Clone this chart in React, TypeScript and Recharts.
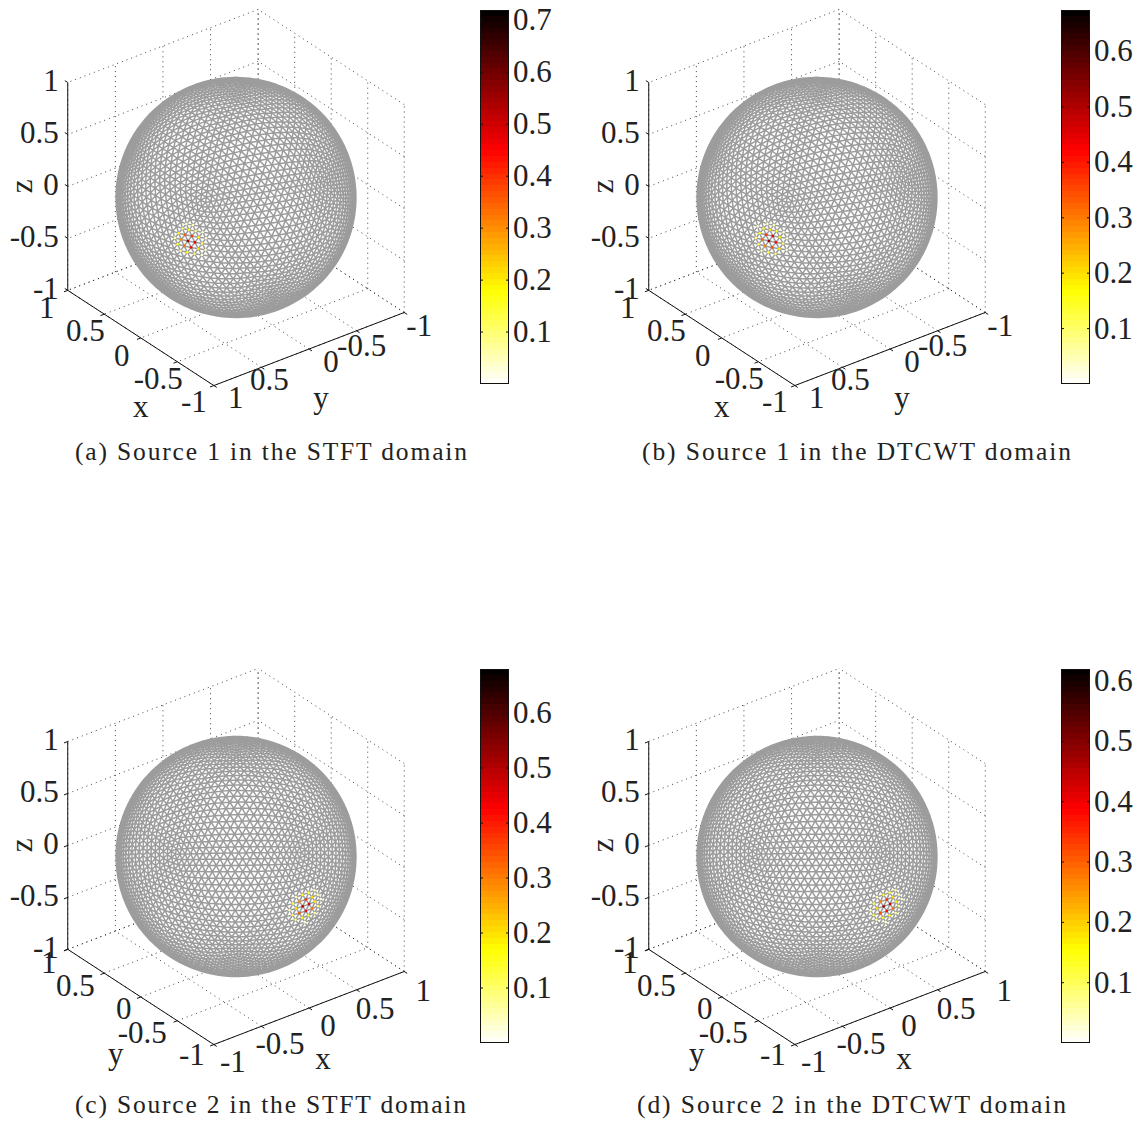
import React from 'react';
import { ComposedChart, Line, Scatter, Bar, XAxis, YAxis } from 'recharts';

// view of each panel (degrees)
const VIEW_EL = 30;
const VIEW_AZ = [-127.5, -127.5, -37.5, -37.5];

const TICK_VALUES = [-1, -0.5, 0, 0.5, 1];
const TICK_TEXT = ['-1', '-0.5', '0', '0.5', '1'];

const CAPTIONS = [
  '(a) Source 1 in the STFT domain',
  '(b) Source 1 in the DTCWT domain',
  '(c) Source 2 in the STFT domain',
  '(d) Source 2 in the DTCWT domain',
];

// estimated direction of each source on the sphere (degrees)
const SOURCE_AZ = [119.3, 119.3, -92, -92];
const SOURCE_EL = [6, 6.5, -0.5, -0.5];

// colorbar tops and labels
const BAR_MAX = [0.72, 0.675, 0.68, 0.62];
const BAR_TICKS = [
  [0.1, 0.2, 0.3, 0.4, 0.5, 0.6, 0.7],
  [0.1, 0.2, 0.3, 0.4, 0.5, 0.6],
  [0.1, 0.2, 0.3, 0.4, 0.5, 0.6],
  [0.1, 0.2, 0.3, 0.4, 0.5, 0.6],
];

// values on the mesh nodes around each source, nearest node first
const HOT_A = [0.55, 0.47, 0.44, 0.4, 0.36, 0.33, 0.3, 0.2, 0.19, 0.18, 0.17, 0.16, 0.15, 0.12, 0.11, 0.1, 0.09, 0.08, 0.07, 0.05, 0.05, 0.04, 0.04, 0.03, 0.03];
const HOT_B = [0.52, 0.45, 0.42, 0.38, 0.35, 0.32, 0.29, 0.2, 0.19, 0.18, 0.16, 0.15, 0.14, 0.12, 0.11, 0.1, 0.09, 0.08, 0.07, 0.05, 0.05, 0.04, 0.04, 0.03, 0.03];
const HOT_C = [0.5, 0.46, 0.42, 0.38, 0.34, 0.31, 0.28, 0.21, 0.2, 0.19, 0.17, 0.16, 0.15, 0.13, 0.12, 0.11, 0.1, 0.09, 0.08, 0.06, 0.05, 0.05, 0.04, 0.04, 0.03];
const HOT_D = [0.46, 0.42, 0.38, 0.35, 0.32, 0.29, 0.27, 0.2, 0.19, 0.17, 0.16, 0.15, 0.14, 0.12, 0.11, 0.1, 0.09, 0.08, 0.07, 0.06, 0.05, 0.05, 0.04, 0.04, 0.03];
const HOT_VALUES = [HOT_A, HOT_B, HOT_C, HOT_D];

const SERIF = '"Liberation Serif", "DejaVu Serif", serif';
const TEXT_COLOR = '#222';
const TICK_FONT = 31;

// panel layout
const PX_PER_UNIT = 120;
const CENTER_X = 236;
const CENTER_Y = 197.5;
const PANEL_W = 574;
const PANEL_H = 465;
const PANEL_LEFT = [0, 581, 0, 581];
const PANEL_TOP = [0, 0, 659, 659];
const CAPTION_X = [75, 642, 75, 637];
const CAPTION_W = [392, 429, 391, 429];
const CAPTION_Y = [460, 460, 1113, 1113];

const X_DOMAIN: [number, number] = [-CENTER_X / PX_PER_UNIT, (PANEL_W - CENTER_X) / PX_PER_UNIT];
const Y_DOMAIN: [number, number] = [(CENTER_Y - PANEL_H) / PX_PER_UNIT, CENTER_Y / PX_PER_UNIT];

// label offsets in px from the tick they belong to, in TICK_VALUES order
const OFFSETS_SOURCE1 = {
  left: [[-20, 17], [-19, 17], [-19, 18], [-19, 17], [-21, 18]],
  right: [[15, 14], [5, 15], [22, 13.5], [8, 13], [22, 13]],
  leftTitle: [0, 69],
  rightTitle: [12, 49],
};
const OFFSETS_SOURCE2 = {
  left: [[-22, 11], [-35, 12], [-17, 12], [-29, 13], [-19, 14]],
  right: [[19, 18], [18.5, 18], [19, 18.5], [18.5, 19], [19, 20]],
  leftTitle: [-25, 57],
  rightTitle: [14, 51],
};

type Vec = [number, number, number];
const rad = (d: number) => (d * Math.PI) / 180;

function projector(az: number, el: number) {
  const ca = Math.cos(rad(az));
  const sa = Math.sin(rad(az));
  const ce = Math.cos(rad(el));
  const se = Math.sin(rad(el));
  return (p: Vec) => ({
    x: ca * p[0] + sa * p[1],
    y: -sa * se * p[0] + ca * se * p[1] + ce * p[2],
    w: ce * sa * p[0] - ce * ca * p[1] + se * p[2],
  });
}

// triangulated unit sphere: this is only the shape the values sit on, not chart data
function buildMesh(freq: number) {
  const g = (1 + Math.sqrt(5)) / 2;
  const tilt = Math.atan2(1, g);
  const raw: Vec[] = [];
  for (const a of [-1, 1]) {
    for (const b of [-g, g]) {
      raw.push([a, b, 0], [0, a, b], [b, 0, a]);
    }
  }
  const ico = raw.map(([x, y, z]): Vec => [
    x,
    y * Math.cos(tilt) - z * Math.sin(tilt),
    y * Math.sin(tilt) + z * Math.cos(tilt),
  ]);
  const dist = (a: Vec, b: Vec) => Math.hypot(a[0] - b[0], a[1] - b[1], a[2] - b[2]);
  const nodes: Vec[] = [];
  const ids = new Map<string, number>();
  const edges = new Map<string, [number, number]>();
  const nodeId = (p: Vec) => {
    const n = Math.hypot(p[0], p[1], p[2]);
    const q: Vec = [p[0] / n, p[1] / n, p[2] / n];
    const key = q.map((c) => c.toFixed(4).replace('-0.0000', '0.0000')).join();
    if (!ids.has(key)) {
      ids.set(key, nodes.length);
      nodes.push(q);
    }
    return ids.get(key) as number;
  };
  const addEdge = (a: number, b: number) => {
    edges.set(a < b ? `${a}_${b}` : `${b}_${a}`, [a, b]);
  };
  for (let i = 0; i < 12; i++) {
    for (let j = i + 1; j < 12; j++) {
      if (Math.abs(dist(ico[i], ico[j]) - 2) > 0.01) continue;
      for (let k = j + 1; k < 12; k++) {
        if (Math.abs(dist(ico[i], ico[k]) - 2) > 0.01 || Math.abs(dist(ico[j], ico[k]) - 2) > 0.01) continue;
        const at = (s: number, t: number) => {
          const r = freq - s - t;
          return nodeId([0, 1, 2].map((c) => r * ico[i][c] + s * ico[j][c] + t * ico[k][c]) as Vec);
        };
        for (let s = 0; s < freq; s++) {
          for (let t = 0; t < freq - s; t++) {
            addEdge(at(s, t), at(s + 1, t));
            addEdge(at(s, t), at(s, t + 1));
            addEdge(at(s + 1, t), at(s, t + 1));
          }
        }
      }
    }
  }
  return { nodes, edges: [...edges.values()] };
}

const MESH = buildMesh(20);

function hotColor(t: number) {
  const s = 1 - Math.min(1, Math.max(0, t));
  const clip = (v: number) => Math.round(255 * Math.min(1, Math.max(0, v)));
  return `rgb(${clip(s / 0.375)},${clip((s - 0.375) / 0.375)},${clip((s - 0.75) / 0.25)})`;
}

type Row = { x: number; y: number | null };

function meshRows(az: number): Row[] {
  const project = projector(az, VIEW_EL);
  const pts = MESH.nodes.map(project);
  const rows: Row[] = [];
  for (const [a, b] of MESH.edges) {
    if (pts[a].w < -0.02 || pts[b].w < -0.02) continue;
    rows.push({ x: pts[a].x, y: pts[a].y }, { x: pts[b].x, y: pts[b].y }, { x: pts[b].x, y: null });
  }
  return rows;
}

function hotRows(panel: number) {
  const project = projector(VIEW_AZ[panel], VIEW_EL);
  const az = rad(SOURCE_AZ[panel]);
  const el = rad(SOURCE_EL[panel]);
  const src: Vec = [Math.cos(el) * Math.cos(az), Math.cos(el) * Math.sin(az), Math.sin(el)];
  const near = MESH.nodes
    .map((p) => ({ p, d: p[0] * src[0] + p[1] * src[1] + p[2] * src[2] }))
    .sort((a, b) => b.d - a.d);
  return HOT_VALUES[panel]
    .map((value, i) => {
      const q = project(near[i].p);
      return { x: q.x, y: q.y, value, max: BAR_MAX[panel] };
    })
    .reverse();
}

function boxCorners(az: number) {
  // left, front and right floor corners, seen from this azimuth
  if (az < -90) return { L: [1, 1], F: [-1, 1], R: [-1, -1], back: [1, -1] };
  return { L: [-1, 1], F: [-1, -1], R: [1, -1], back: [1, 1] };
}

// dotted grid on the floor and back walls, broken where the sphere hides it
function gridRows(az: number): Row[] {
  const project = projector(az, VIEW_EL);
  const { back } = boxCorners(az);
  const lines: [Vec, Vec][] = [];
  for (const t of TICK_VALUES) {
    lines.push([[t, -1, -1], [t, 1, -1]], [[-1, t, -1], [1, t, -1]]);
    lines.push([[back[0], -1, t], [back[0], 1, t]], [[back[0], t, -1], [back[0], t, 1]]);
    lines.push([[-1, back[1], t], [1, back[1], t]], [[t, back[1], -1], [t, back[1], 1]]);
  }
  const rows: Row[] = [];
  for (const [p0, p1] of lines) {
    const a = project(p0);
    const b = project(p1);
    const dx = b.x - a.x;
    const dy = b.y - a.y;
    const qa = dx * dx + dy * dy;
    const qb = 2 * (a.x * dx + a.y * dy);
    const qc = a.x * a.x + a.y * a.y - 1;
    const disc = qb * qb - 4 * qa * qc;
    const at = (t: number) => ({ x: a.x + t * dx, y: a.y + t * dy });
    let spans: [number, number][] = [[0, 1]];
    if (disc > 0) {
      const t1 = (-qb - Math.sqrt(disc)) / (2 * qa);
      const t2 = (-qb + Math.sqrt(disc)) / (2 * qa);
      spans = [];
      if (t1 > 0) spans.push([0, Math.min(1, t1)]);
      if (t2 < 1) spans.push([Math.max(0, t2), 1]);
    }
    for (const [s, e] of spans) {
      rows.push(at(s), at(e), { x: at(e).x, y: null });
    }
  }
  return rows;
}

function axisRows(az: number): Row[] {
  const project = projector(az, VIEW_EL);
  const { L, F, R } = boxCorners(az);
  const stub = 0.04;
  const rows: Row[] = [];
  const seg = (a: Vec, b: Vec) => {
    const p = project(a);
    const q = project(b);
    rows.push({ x: p.x, y: p.y }, { x: q.x, y: q.y }, { x: q.x, y: null });
  };
  seg([L[0], L[1], -1], [F[0], F[1], -1]);
  seg([F[0], F[1], -1], [R[0], R[1], -1]);
  seg([L[0], L[1], -1], [L[0], L[1], 1]);
  for (const t of TICK_VALUES) {
    // stubs stick out of the box
    const frac = (t + 1) / 2;
    const lp = [L[0] + (F[0] - L[0]) * frac, L[1] + (F[1] - L[1]) * frac];
    const rp = [F[0] + (R[0] - F[0]) * frac, F[1] + (R[1] - F[1]) * frac];
    const lOut: Vec = L[0] === F[0] ? [L[0] * (1 + stub), lp[1], -1] : [lp[0], L[1] * (1 + stub), -1];
    const rOut: Vec = R[0] === F[0] ? [R[0] * (1 + stub), rp[1], -1] : [rp[0], R[1] * (1 + stub), -1];
    seg([lp[0], lp[1], -1], lOut);
    seg([rp[0], rp[1], -1], rOut);
    const zOut: Vec = [L[0] * (1 + stub), L[1], t];
    seg([L[0], L[1], t], zOut);
  }
  return rows;
}

function labelRows(az: number) {
  const project = projector(az, VIEW_EL);
  const { L, F, R } = boxCorners(az);
  const source1 = az < -90;
  const off = source1 ? OFFSETS_SOURCE1 : OFFSETS_SOURCE2;
  const rows: any[] = [];
  const push = (p: Vec, text: string, dx: number, dy: number, anchor = 'middle', rotate = false) => {
    const q = project(p);
    rows.push({ x: q.x, y: q.y, text, dx, dy, anchor, rotate });
  };
  // tick order along the axes depends on the view; walk them by tick value
  const leftAlong = source1 ? 0 : 1; // coordinate that varies on the left axis
  const rightAlong = 1 - leftAlong;
  TICK_VALUES.forEach((t, i) => {
    const lp: Vec = leftAlong === 0 ? [t, L[1], -1] : [L[0], t, -1];
    const rp: Vec = rightAlong === 0 ? [t, R[1], -1] : [R[0], t, -1];
    push(lp, TICK_TEXT[i], off.left[i][0], off.left[i][1]);
    push(rp, TICK_TEXT[i], off.right[i][0], off.right[i][1]);
    push([L[0], L[1], t], TICK_TEXT[i], -9, -1, 'end');
  });
  const lm: Vec = [(L[0] + F[0]) / 2, (L[1] + F[1]) / 2, -1];
  const rm: Vec = [(R[0] + F[0]) / 2, (R[1] + F[1]) / 2, -1];
  push(lm, source1 ? 'x' : 'y', off.leftTitle[0], off.leftTitle[1]);
  push(rm, source1 ? 'y' : 'x', off.rightTitle[0], off.rightTitle[1]);
  push([L[0], L[1], 0], 'z', -46, 0, 'middle', true);
  return rows;
}

const renderLabel = (props: any) => {
  const { cx, cy, payload } = props;
  const x = cx + payload.dx;
  const y = cy + payload.dy;
  return (
    <text
      x={x}
      y={y}
      dy={TICK_FONT * 0.32}
      textAnchor={payload.anchor}
      fontFamily={SERIF}
      fontSize={TICK_FONT}
      fill={TEXT_COLOR}
      transform={payload.rotate ? `rotate(-90 ${x} ${y})` : undefined}
    >
      {payload.text}
    </text>
  );
};

const renderHot = (props: any) => {
  const { cx, cy, payload } = props;
  return <circle cx={cx} cy={cy} r={1.3} fill={hotColor(payload.value / payload.max)} />;
};

function SpherePanel({ panel }: { panel: number }) {
  const az = VIEW_AZ[panel];
  return (
    <ComposedChart width={PANEL_W} height={PANEL_H} margin={{ top: 0, right: 0, bottom: 0, left: 0 }}>
      <XAxis hide type="number" dataKey="x" domain={X_DOMAIN} allowDataOverflow />
      <YAxis hide type="number" dataKey="y" domain={Y_DOMAIN} allowDataOverflow />
      <Line data={gridRows(az)} dataKey="y" stroke="#111" strokeWidth={0.8} strokeDasharray="1 4" dot={false} activeDot={false} isAnimationActive={false} />
      <Line data={meshRows(az)} dataKey="y" stroke="#9c9c9c" strokeWidth={1.5} dot={false} activeDot={false} isAnimationActive={false} />
      <Line data={axisRows(az)} dataKey="y" stroke="#111" strokeWidth={1} dot={false} activeDot={false} isAnimationActive={false} />
      <Scatter data={hotRows(panel)} dataKey="y" shape={renderHot} isAnimationActive={false} />
      <Scatter data={labelRows(az)} dataKey="y" shape={renderLabel} isAnimationActive={false} />
    </ComposedChart>
  );
}

const BAND_COUNT = 64;
const BANDS = Array.from({ length: BAND_COUNT }, (_, i) => i);
const BAR_W = 29;

function ColorBar({ panel }: { panel: number }) {
  const max = BAR_MAX[panel];
  const gradId = `hot-${panel}`;
  const renderTick = (props: any) => {
    const { x, y, payload } = props;
    const right = x - 4;
    return (
      <g>
        <line x1={right - BAR_W} x2={right - BAR_W + 3} y1={y} y2={y} stroke="#111" />
        <line x1={right - 3} x2={right} y1={y} y2={y} stroke="#111" />
        <text x={x} y={y} dy={TICK_FONT * 0.32} fontFamily={SERIF} fontSize={TICK_FONT} fill={TEXT_COLOR}>
          {payload.value}
        </text>
      </g>
    );
  };
  return (
    <ComposedChart
      width={BAR_W + 58}
      height={396}
      data={[{ name: 'c', top: max }]}
      barCategoryGap={0}
      margin={{ top: 10, right: 0, bottom: 12, left: 0 }}
    >
      {/* hard colour stops, one band per colormap entry */}
      <defs>
        <linearGradient id={gradId} x1="0" y1="1" x2="0" y2="0">
          {BANDS.flatMap((i) => [
            <stop key={`${i}a`} offset={i / BAND_COUNT} stopColor={hotColor((i + 0.5) / BAND_COUNT)} />,
            <stop key={`${i}b`} offset={(i + 1) / BAND_COUNT} stopColor={hotColor((i + 0.5) / BAND_COUNT)} />,
          ])}
        </linearGradient>
      </defs>
      <XAxis hide dataKey="name" />
      <Bar dataKey="top" fill={`url(#${gradId})`} isAnimationActive={false} />
      <YAxis
        orientation="right"
        width={58}
        type="number"
        domain={[0, max]}
        ticks={BAR_TICKS[panel]}
        interval={0}
        tickSize={0}
        tickMargin={4}
        tickLine={false}
        axisLine={false}
        allowDataOverflow
        tick={renderTick}
      />
    </ComposedChart>
  );
}

export default function App() {
  return (
    <div style={{ position: 'absolute', left: 0, top: 0, width: 1148, height: 1124, background: '#fff', overflow: 'hidden' }}>
      {VIEW_AZ.map((_, panel) => (
        <React.Fragment key={panel}>
          <div style={{ position: 'absolute', left: PANEL_LEFT[panel], top: PANEL_TOP[panel] }}>
            <SpherePanel panel={panel} />
          </div>
          <div style={{ position: 'absolute', left: PANEL_LEFT[panel] + 480, top: PANEL_TOP[panel] }}>
            <ColorBar panel={panel} />
          </div>
          {/* colorbar frame */}
          <div
            style={{
              position: 'absolute',
              left: PANEL_LEFT[panel] + 480,
              top: PANEL_TOP[panel] + 10,
              width: BAR_W,
              height: 374,
              boxSizing: 'border-box',
              border: '1.5px solid #111',
              pointerEvents: 'none',
            }}
          />
        </React.Fragment>
      ))}
      <svg width={1148} height={1124} style={{ position: 'absolute', left: 0, top: 0, pointerEvents: 'none' }}>
        {CAPTIONS.map((text, i) => (
          <text
            key={i}
            x={CAPTION_X[i]}
            y={CAPTION_Y[i]}
            textLength={CAPTION_W[i]}
            lengthAdjust="spacing"
            fontFamily={SERIF}
            fontSize={25.5}
            fill={TEXT_COLOR}
          >
            {text}
          </text>
        ))}
      </svg>
    </div>
  );
}
